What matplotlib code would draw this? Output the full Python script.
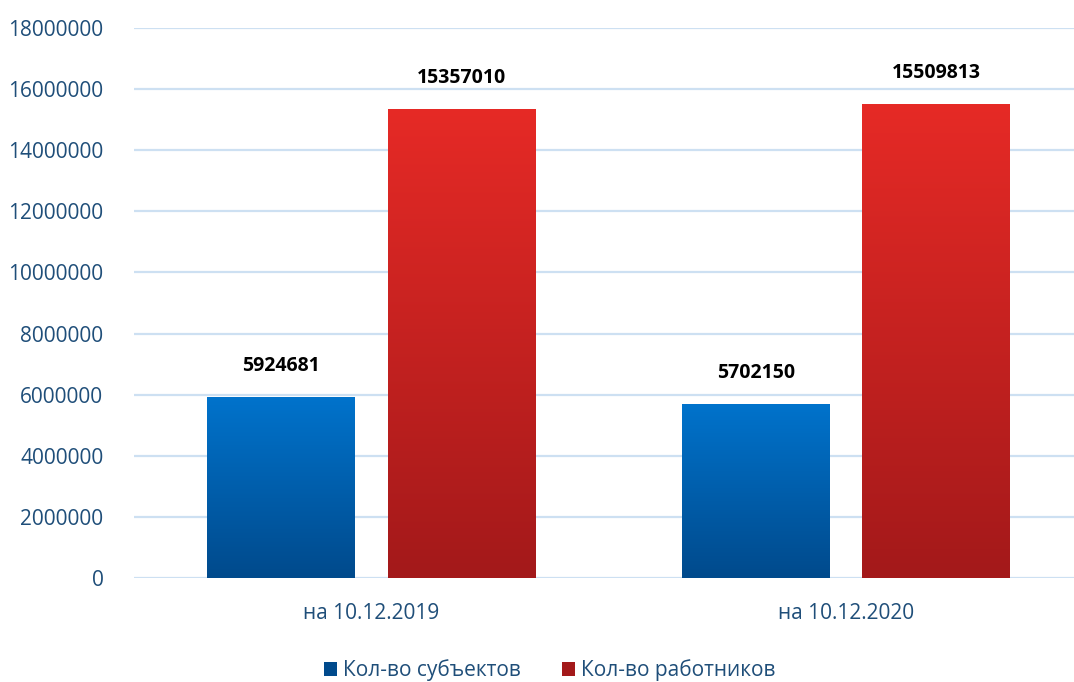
import matplotlib.pyplot as plt
from matplotlib.colors import LinearSegmentedColormap
from matplotlib.patches import Patch
import numpy as np

categories = ["на 10.12.2019", "на 10.12.2020"]
series_names = ["Кол-во субъектов", "Кол-во работников"]
subjects = [5924681, 5702150]
workers = [15357010, 15509813]
yticks = list(range(0, 18000001, 2000000))

BLUE_TOP, BLUE_BOT = "#0073cc", "#004a8c"
RED_TOP, RED_BOT = "#e62a26", "#a3191a"
TICK_COLOR = "#1f4e79"

plt.rcParams["font.family"] = ["Open Sans", "DejaVu Sans"]

fig = plt.figure(figsize=(10.74, 6.82), dpi=100)
ax = fig.add_axes([0.1248, 0.1525, 0.884, 0.8065])

x = np.arange(len(categories))
width = 0.311
offset = 0.19

bars_s = ax.bar(x - offset, subjects, width, color=BLUE_TOP, zorder=2)
bars_w = ax.bar(x + offset, workers, width, color=RED_TOP, zorder=2)


def gradient_fill(bars, top, bottom):
    cmap = LinearSegmentedColormap.from_list("g", [bottom, top])
    grad = np.linspace(0, 1, 256).reshape(-1, 1)
    for b in bars:
        x0, y0 = b.get_x(), b.get_y()
        w, h = b.get_width(), b.get_height()
        im = ax.imshow(grad, cmap=cmap, aspect="auto", origin="lower",
                       extent=[x0, x0 + w, y0, y0 + h], zorder=3)
        im.set_clip_path(b)
        b.set_edgecolor("none")


gradient_fill(bars_s, BLUE_TOP, BLUE_BOT)
gradient_fill(bars_w, RED_TOP, RED_BOT)

for bars, vals in [(bars_s, subjects), (bars_w, workers)]:
    for b, v in zip(bars, vals):
        ax.annotate(f"{v}", (b.get_x() + b.get_width() / 2, v),
                    xytext=(0, 15), textcoords="offset points",
                    ha="center", va="bottom", fontsize=14, fontweight="bold",
                    color="black", zorder=4)

ax.set_xlim(-0.5, 1.5)
ax.set_ylim(0, 18000000)
ax.set_yticks(yticks)
ax.set_yticklabels([str(t) for t in yticks])
ax.set_xticks(x)
ax.set_xticklabels(categories)
ax.tick_params(axis="y", length=0, pad=22, labelsize=15, labelcolor=TICK_COLOR)
ax.tick_params(axis="x", length=0, pad=18, labelsize=15, labelcolor=TICK_COLOR)
ax.grid(axis="y", color="#cde0f2", linewidth=1.6, zorder=0)
ax.set_axisbelow(True)
for s in ax.spines.values():
    s.set_visible(False)

handles = [Patch(facecolor=BLUE_BOT, label=series_names[0]),
           Patch(facecolor=RED_BOT, label=series_names[1])]
fig.legend(handles=handles, loc="center", bbox_to_anchor=(0.512, 0.017),
           ncol=2, frameon=False, fontsize=15, labelcolor=TICK_COLOR,
           handlelength=0.6, handleheight=0.6, handletextpad=0.3,
           columnspacing=2.0)

fig.savefig("out.png", dpi=100)
